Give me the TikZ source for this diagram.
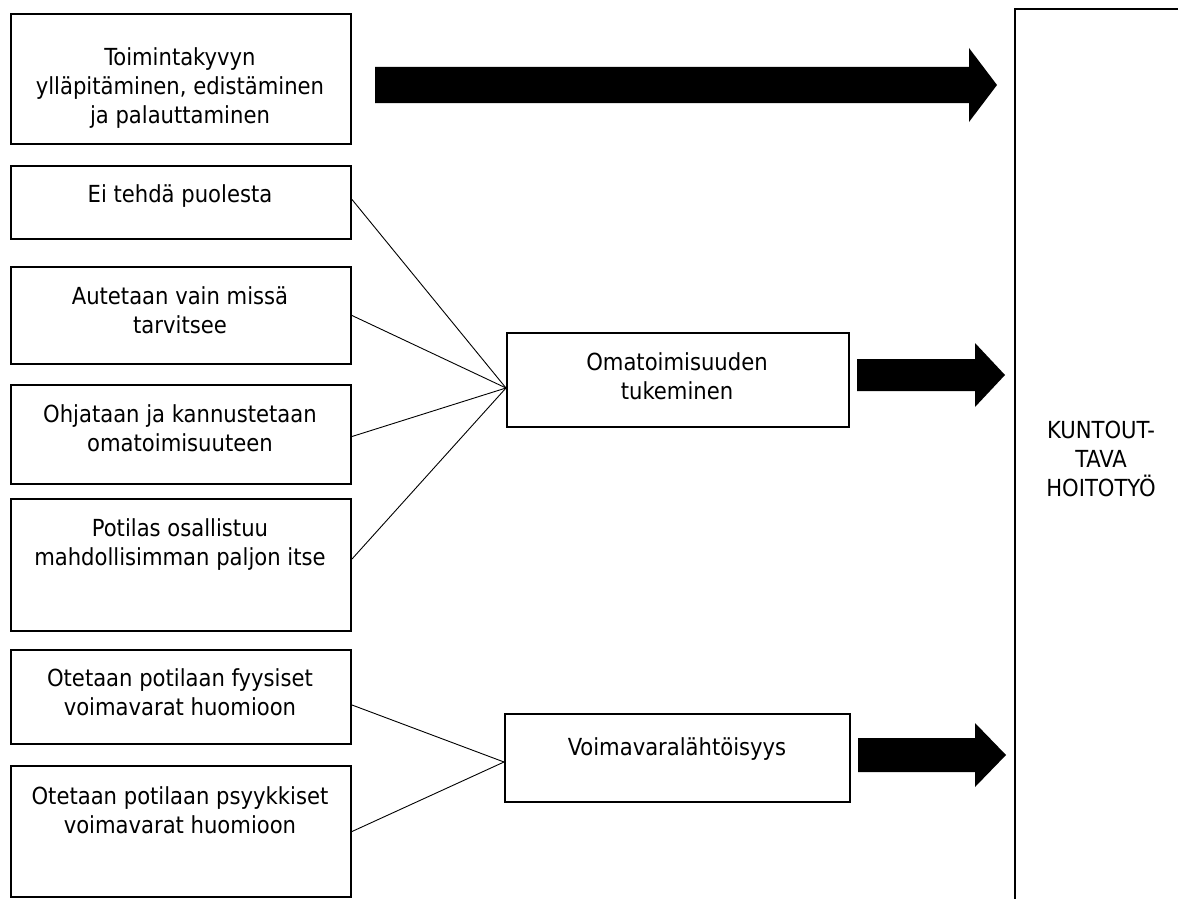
\documentclass[tikz,border=0pt]{standalone}
\usepackage{fontspec}
\setmainfont{DejaVu Sans Condensed}
\begin{document}
\begin{tikzpicture}[x=1pt,y=-1pt,
  box/.style={draw, line width=2pt, anchor=north west, inner sep=0pt},
  txt/.style={align=center, font=\fontsize{23.5}{29}\selectfont, inner sep=0pt, anchor=base},
  link/.style={line width=0.9pt},
  blockarrow/.style={fill=black}]
\useasboundingbox (0,0) rectangle (1178,899);
\clip (0,0) rectangle (1178,899);
% left boxes (text anchor = baseline of last line)
\node[box, minimum width=340pt, minimum height=130pt] (b1) at (10,13) {};
\node[txt] (t1) at (180,123) {Toimintakyvyn\\ylläpitäminen, edistäminen\\ja palauttaminen};
\node[box, minimum width=340pt, minimum height=73pt] (b2) at (10,165) {};
\node[txt] (t2) at (180,202) {Ei tehdä puolesta};
\node[box, minimum width=340pt, minimum height=97pt] (b3) at (10,266) {};
\node[txt] (t3) at (180,333) {Autetaan vain missä\\tarvitsee};
\node[box, minimum width=340pt, minimum height=99pt] (b4) at (10,384) {};
\node[txt] (t4) at (180,451) {Ohjataan ja kannustetaan\\omatoimisuuteen};
\node[box, minimum width=340pt, minimum height=132pt] (b5) at (10,498) {};
\node[txt] (t5) at (180,565) {Potilas osallistuu\\mahdollisimman paljon itse};
\node[box, minimum width=340pt, minimum height=94pt] (b6) at (10,649) {};
\node[txt] (t6) at (180,715) {Otetaan potilaan fyysiset\\voimavarat huomioon};
\node[box, minimum width=340pt, minimum height=131pt] (b7) at (10,765) {};
\node[txt] (t7) at (180,833) {Otetaan potilaan psyykkiset\\voimavarat huomioon};
% middle boxes
\node[box, minimum width=342pt, minimum height=94pt] (om) at (506,332) {};
\node[txt] (tom) at (677,399) {Omatoimisuuden\\tukeminen};
\node[box, minimum width=345pt, minimum height=88pt] (vo) at (504,713) {};
\node[txt] (tvo) at (677,755) {Voimavaralähtöisyys};
% right box
\node[box, minimum width=190pt, minimum height=920pt] (kt) at (1014,8) {};
\node[txt] (tkt) at (1101,496) {KUNTOUT-\\TAVA\\HOITOTYÖ};
% connectors
\draw[link] ([yshift=3pt]b2.east) -- ([yshift=-8pt]om.west);
\draw[link] (b3.east) -- ([yshift=-8pt]om.west);
\draw[link] ([yshift=-2pt]b4.east) -- ([yshift=-8pt]om.west);
\draw[link] ([yshift=6pt]b5.east) -- ([yshift=-8pt]om.west);
\draw[link] ([yshift=-8pt]b6.east) -- ([yshift=-4pt]vo.west);
\draw[link] (b7.east) -- ([yshift=-4pt]vo.west);
% block arrows
\fill[blockarrow] (375,67) -- (969,67) -- (969,48) -- (997,85) -- (969,122) -- (969,103) -- (375,103) -- cycle;
\fill[blockarrow] (857,359) -- (975,359) -- (975,343) -- (1005,375) -- (975,407) -- (975,391) -- (857,391) -- cycle;
\fill[blockarrow] (858,738) -- (975,738) -- (975,723) -- (1006,755) -- (975,787) -- (975,772) -- (858,772) -- cycle;
\end{tikzpicture}
\end{document}
